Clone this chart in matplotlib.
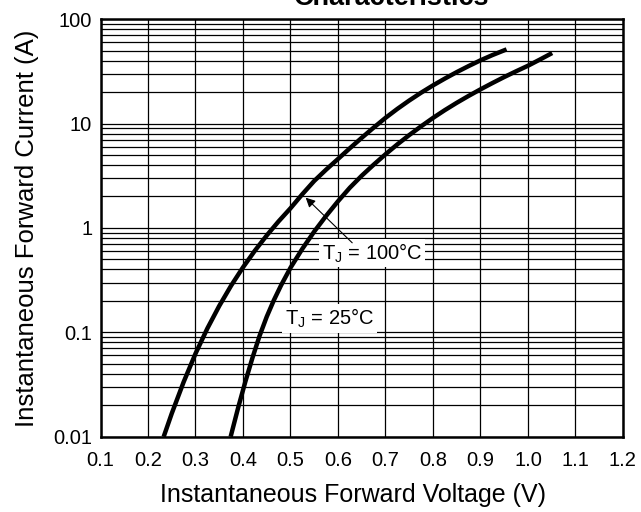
import matplotlib
matplotlib.use('Agg')
import matplotlib.pyplot as plt
from matplotlib.ticker import FixedLocator, LogLocator, NullFormatter

plt.rcParams['font.family'] = ['Liberation Sans', 'DejaVu Sans']

# Curves (V in volts, I in amps)
v_100 = [0.233, 0.250, 0.275, 0.300, 0.325, 0.350, 0.375, 0.400, 0.425, 0.450,
         0.475, 0.500, 0.525, 0.550, 0.575, 0.600, 0.625, 0.650, 0.675, 0.700,
         0.725, 0.750, 0.775, 0.800, 0.825, 0.850, 0.875, 0.900, 0.925, 0.955]
i_100 = [0.0100, 0.0167, 0.0334, 0.0625, 0.109, 0.179, 0.280, 0.419, 0.605, 0.847,
         1.156, 1.542, 2.104, 2.818, 3.614, 4.571, 5.794, 7.295, 9.120, 11.32,
         13.80, 16.60, 19.72, 23.17, 26.92, 31.05, 35.48, 40.27, 45.19, 51.29]

v_25 = [0.374, 0.390, 0.405, 0.420, 0.435, 0.450, 0.465, 0.480, 0.500, 0.525,
        0.550, 0.575, 0.600, 0.625, 0.650, 0.675, 0.700, 0.725, 0.750, 0.775,
        0.800, 0.825, 0.850, 0.875, 0.900, 0.925, 0.950, 0.975, 1.000, 1.025, 1.051]
i_25 = [0.0100, 0.0191, 0.0337, 0.0571, 0.0927, 0.141, 0.203, 0.281, 0.415, 0.631,
        0.923, 1.303, 1.799, 2.427, 3.162, 4.027, 5.070, 6.310, 7.745, 9.397,
        11.30, 13.43, 15.78, 18.37, 21.23, 24.38, 27.86, 31.62, 35.73, 40.93, 47.32]

x_ticks = [0.1, 0.2, 0.3, 0.4, 0.5, 0.6, 0.7, 0.8, 0.9, 1.0, 1.1, 1.2]
x_labels = ['0.1', '0.2', '0.3', '0.4', '0.5', '0.6', '0.7', '0.8', '0.9', '1.0', '1.1', '1.2']
y_ticks = [0.01, 0.1, 1, 10, 100]
y_labels = ['0.01', '0.1', '1', '10', '100']

fig = plt.figure(figsize=(6.41, 5.12), dpi=100)
ax = fig.add_axes([0.1568, 0.147, 0.815, 0.8157])

ax.set_yscale('log')
ax.set_xlim(0.1, 1.2)
ax.set_ylim(0.01, 100)

ax.xaxis.set_major_locator(FixedLocator(x_ticks))
ax.set_xticklabels(x_labels)
ax.set_yticks(y_ticks)
ax.set_yticklabels(y_labels)
ax.yaxis.set_minor_locator(LogLocator(base=10, subs=range(2, 10)))
ax.yaxis.set_minor_formatter(NullFormatter())
ax.tick_params(which='both', length=0)
ax.tick_params(axis='x', labelsize=14.5, pad=10)
ax.tick_params(axis='y', labelsize=14.5, pad=6)

ax.grid(True, which='both', axis='y', color='black', linewidth=0.9)
ax.grid(True, which='major', axis='x', color='black', linewidth=0.9)
ax.set_axisbelow(True)
for s in ax.spines.values():
    s.set_linewidth(1.8)

ax.plot(v_100, i_100, color='black', linewidth=3.2, solid_capstyle='butt', zorder=3)
ax.plot(v_25, i_25, color='black', linewidth=3.2, solid_capstyle='butt', zorder=3)

# curve labels on white patches
box = dict(facecolor='white', edgecolor='none', pad=2)
ax.text(0.671, 0.575, 'T$_\\mathregular{J}$ = 100\u00b0C', fontsize=14.5,
        ha='center', va='center', bbox=box, zorder=4)
ax.text(0.582, 0.137, 'T$_\\mathregular{J}$ = 25\u00b0C', fontsize=14.5,
        ha='center', va='center', bbox=box, zorder=4)
ax.annotate('', xy=(0.532, 1.95), xytext=(0.630, 0.72),
            arrowprops=dict(arrowstyle='-|>', color='black', lw=0.8,
                            mutation_scale=14, shrinkA=0, shrinkB=0), zorder=5)

ax.set_xlabel('Instantaneous Forward Voltage (V)', fontsize=18)
ax.xaxis.set_label_coords(0.483, -0.11)
ax.set_ylabel('Instantaneous Forward Current (A)', fontsize=18.5, labelpad=10)

fig.text(0.611, 0.990, 'Characteristics', ha='center', va='baseline',
         fontsize=19.5, fontweight='bold')

fig.savefig('out.png', dpi=100)
